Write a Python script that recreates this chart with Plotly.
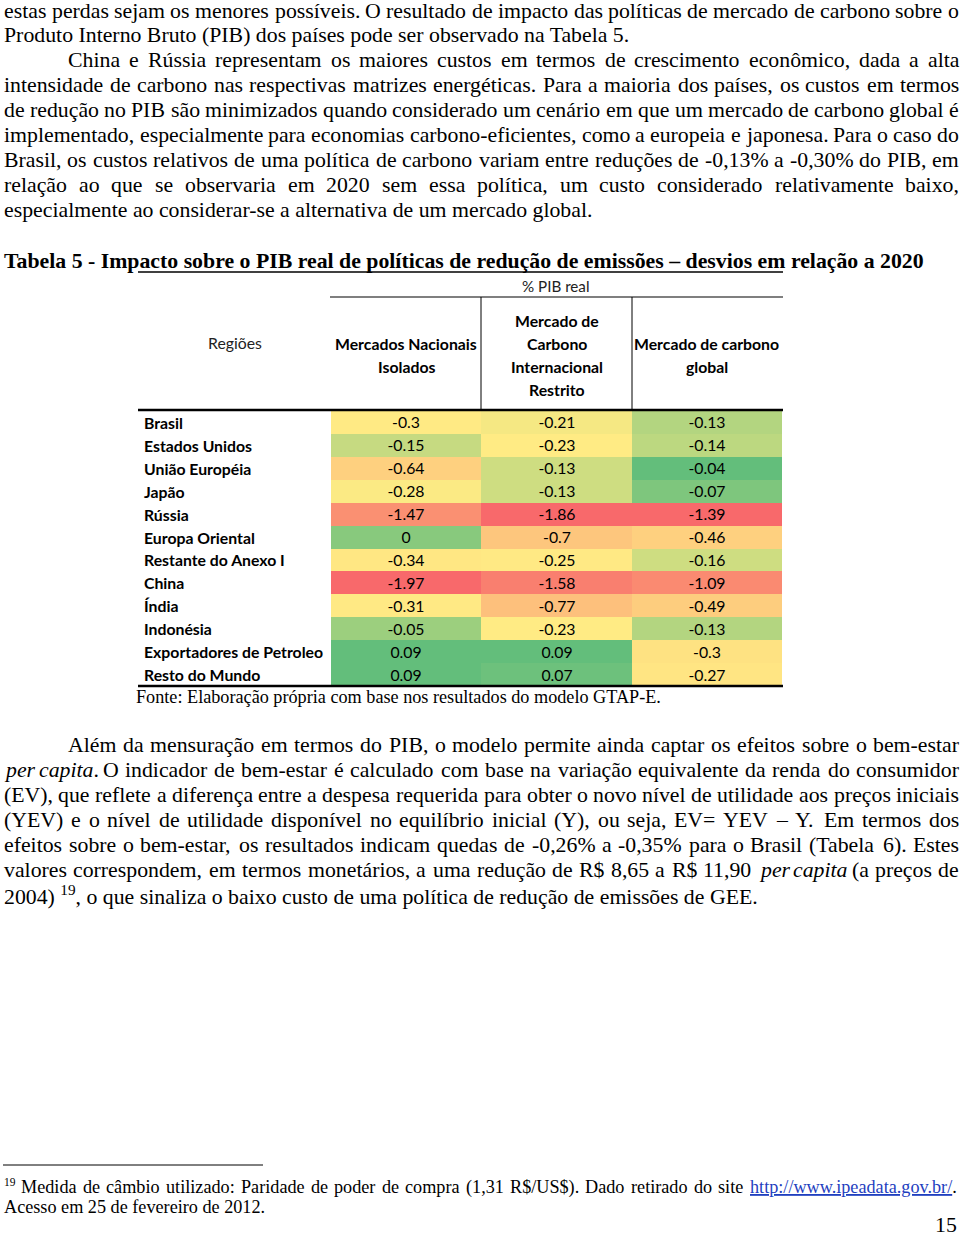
import re
import unicodedata
import plotly.graph_objects as go

W, H = 960, 1239

# ---------------- data ----------------
regions = ["Brasil", "Estados Unidos", "União Européia", "Japão", "Rússia",
           "Europa Oriental", "Restante do Anexo I", "China", "Índia",
           "Indonésia", "Exportadores de Petroleo", "Resto do Mundo"]
columns = ["Mercados Nacionais Isolados",
           "Mercado de Carbono Internacional Restrito",
           "Mercado de carbono global"]
column_lines = [["Mercados Nacionais", "Isolados"],
                ["Mercado de", "Carbono", "Internacional", "Restrito"],
                ["Mercado de carbono", "global"]]
mercados_nacionais = [-0.3, -0.15, -0.64, -0.28, -1.47, 0, -0.34, -1.97, -0.31, -0.05, 0.09, 0.09]
mercado_internacional = [-0.21, -0.23, -0.13, -0.13, -1.86, -0.7, -0.25, -1.58, -0.77, -0.23, 0.09, 0.07]
mercado_global = [-0.13, -0.14, -0.04, -0.07, -1.39, -0.46, -0.16, -1.09, -0.49, -0.13, -0.3, -0.27]
series = [mercados_nacionais, mercado_internacional, mercado_global]

para1 = [
    "estas perdas sejam os menores possíveis. O resultado de impacto das políticas de mercado de carbono sobre o",
    "Produto Interno Bruto (PIB) dos países pode ser observado na Tabela 5.",
]
para2 = [
    "China e Rússia representam os maiores custos em termos de crescimento econômico, dada a alta",
    "intensidade de carbono nas respectivas matrizes energéticas. Para a maioria dos países, os custos em termos",
    "de redução no PIB são minimizados quando considerado um cenário em que um mercado de carbono global é",
    "implementado, especialmente para economias carbono-eficientes, como a europeia e japonesa. Para o caso do",
    "Brasil, os custos relativos de uma política de carbono variam entre reduções de -0,13% a -0,30% do PIB, em",
    "relação ao que se observaria em 2020 sem essa política, um custo considerado relativamente baixo,",
    "especialmente ao considerar-se a alternativa de um mercado global.",
]
title = "Tabela 5 - Impacto sobre o PIB real de políticas de redução de emissões – desvios em relação a 2020"
source = "Fonte: Elaboração própria com base nos resultados do modelo GTAP-E."
para3 = [
    "Além da mensuração em termos do PIB, o modelo permite ainda captar os efeitos sobre o bem-estar",
    "<i>per</i> <i>capita</i>. O indicador de bem-estar é calculado com base na variação equivalente da renda do consumidor",
    "(EV), que reflete a diferença entre a despesa requerida para obter o novo nível de utilidade aos preços iniciais",
    "(YEV) e o nível de utilidade disponível no equilíbrio inicial (Y), ou seja, EV= YEV – Y. Em termos dos",
    "efeitos sobre o bem-estar, os resultados indicam quedas de -0,26% a -0,35% para o Brasil (Tabela 6). Estes",
    "valores correspondem, em termos monetários, a uma redução de R$ 8,65 a R$ 11,90 <i>per</i> <i>capita</i> (a preços de",
    "2004) <sup>19</sup>, o que sinaliza o baixo custo de uma política de redução de emissões de GEE.",
]
foot1 = ("Medida de câmbio utilizado: Paridade de poder de compra (1,31 R$/US$). Dado retirado do site "
         "http://www.ipeadata.gov.br/.")
foot2 = "Acesso em 25 de fevereiro de 2012."

# ---------------- helpers ----------------
TIMES = {' ': 250, '!': 333, '"': 408, '$': 500, '%': 833, '(': 333, ')': 333, ',': 250,
         '-': 333, '.': 250, '/': 278, ':': 278, ';': 278, '=': 564, '?': 444, '–': 500}
for d in "0123456789":
    TIMES[d] = 500
TIMES.update(dict(zip("ABCDEFGHIJKLMNOPQRSTUVWXYZ",
                      [722, 667, 667, 722, 611, 556, 722, 722, 333, 389, 722, 611, 889,
                       722, 722, 556, 722, 667, 556, 611, 722, 722, 944, 722, 722, 611])))
TIMES.update(dict(zip("abcdefghijklmnopqrstuvwxyz",
                      [444, 500, 444, 500, 444, 333, 500, 500, 278, 278, 500, 278, 778,
                       500, 500, 500, 500, 333, 389, 278, 500, 500, 722, 500, 500, 444])))


def text_width(s, size):
    s = re.sub(r"<[^>]+>", "", s)
    tot = 0
    for ch in s:
        base = unicodedata.normalize("NFD", ch)[0]
        tot += TIMES.get(base, 500)
    return tot / 1000.0 * size


def px(x):
    return x / W


def py(y):
    return 1 - y / H


SERIF = "Liberation Serif"
SANS = "Lato"
BODY = 21.8
SMALL = 18.2
TSIZE = 15.8

annotations = []
shapes = []


def add_text(txt, x, y, size=BODY, family=SERIF, anchor="left", color="black"):
    annotations.append(dict(text=txt, x=px(x), y=py(y), xref="paper", yref="paper",
                            xanchor=anchor, yanchor="middle", showarrow=False,
                            borderpad=0, font=dict(family=family, size=size, color=color)))


def justify(txt, y, x0=3, x1=958, size=BODY):
    words = txt.split(" ")
    widths = [text_width(w, size) for w in words]
    gap = (x1 - x0 - sum(widths)) / (len(words) - 1)
    x = x0
    for w, wd in zip(words, widths):
        shown = w
        if w.startswith("http"):
            shown = "<span style='color:#1f3fbf'><u>" + w[:-1] + "</u></span>."
        add_text(shown, x, y, size)
        x += wd + gap


def hline(x0, x1, y, width=1.0):
    shapes.append(dict(type="line", xref="paper", yref="paper", x0=px(x0), x1=px(x1),
                       y0=py(y), y1=py(y), line=dict(color="black", width=width)))


def vline(x, y0, y1, width=1.0):
    shapes.append(dict(type="line", xref="paper", yref="paper", x0=px(x), x1=px(x),
                       y0=py(y0), y1=py(y1), line=dict(color="black", width=width)))


# ---------------- body text ----------------
LINE = 25
justify(para1[0], 11)
add_text(para1[1], 3, 35)
for i, ln in enumerate(para2):
    y = 60 + i * LINE
    if i == len(para2) - 1:
        add_text(ln, 3, y)
    else:
        justify(ln, y, x0=67 if i == 0 else 3)

add_text("<b>" + title + "</b>", 3, 261, size=21.8)

for i, ln in enumerate(para3):
    y = 745 + i * LINE
    if i == len(para3) - 1:
        add_text(ln, 3, y)
    else:
        justify(ln, y, x0=67 if i == 0 else 3)

add_text(source, 135, 697, size=SMALL)

# footnote
hline(3, 263, 1165, 1)
add_text("19", 3, 1182, size=11.5)
justify(foot1, 1187, x0=20, x1=958, size=SMALL)
add_text(foot2, 3, 1207, size=SMALL)
add_text("15", 958, 1225, size=BODY, anchor="right")

# ---------------- table ----------------
x_left, x_right = 331, 782
y_top, y_bot = 411, 686

hline(138, 783, 272, 1.6)
hline(330, 783, 297, 1.2)
vline(481, 297, 410, 1.0)
vline(632, 297, 410, 1.0)
hline(138, 783, 410, 2.6)
hline(138, 783, 686, 2.6)

add_text("% PIB real", 556, 286, size=15.2, family=SANS, anchor="center", color="#222")
add_text("Regiões", 235, 342, size=TSIZE, family=SANS, anchor="center", color="#222")
for c, lines in zip(columns, column_lines):
    n = len(lines)
    for j, ln in enumerate(lines):
        y = 355 + (j - (n - 1) / 2) * 23
        annotations.append(dict(text="<b>" + ln + "</b>", x=c, xref="x2", y=py(y), yref="paper",
                                xanchor="center", yanchor="middle", showarrow=False,
                                font=dict(family=SANS, size=TSIZE, color="black")))

for r in regions:
    annotations.append(dict(text="<b>" + r + "</b>", x=px(142), xref="paper", y=r, yref="y2",
                            xanchor="left", yanchor="middle", showarrow=False,
                            font=dict(family=SANS, size=TSIZE, color="black")))

RED, YEL, GRN = "#F8696B", "#FFEB84", "#63BE7B"


def fmt(v):
    return f"{v:g}"


# Excel-style 3-colour scale, evaluated per column (min / median / max)
def col_scale(vals):
    lo, hi = min(vals), max(vals)
    s = sorted(vals)
    n = len(s)
    med = (s[n // 2 - 1] + s[n // 2]) / 2 if n % 2 == 0 else s[n // 2]
    out = []
    for v in vals:
        if v <= med:
            out.append(0.5 * (v - lo) / (med - lo))
        else:
            out.append(0.5 + 0.5 * (v - med) / (hi - med))
    return out


scaled = [col_scale(v) for v in series]
z = [[scaled[c][r] for c in range(len(columns))] for r in range(len(regions))]
txt = [[fmt(series[c][r]) for c in range(len(columns))] for r in range(len(regions))]

fig = go.Figure(go.Heatmap(
    x=columns, y=regions, z=z, text=txt, texttemplate="%{text}",
    textfont=dict(family=SANS, size=TSIZE, color="black"),
    colorscale=[[0, RED], [0.5, YEL], [1, GRN]], zmin=0, zmax=1,
    showscale=False, xaxis="x2", yaxis="y2", hoverinfo="skip", xgap=0, ygap=0,
))

fig.update_layout(
    width=W, height=H, margin=dict(l=0, r=0, t=0, b=0),
    paper_bgcolor="white", plot_bgcolor="white", showlegend=False,
    xaxis2=dict(domain=[px(x_left), px(x_right)], anchor="y2", type="category",
                categoryorder="array", categoryarray=columns, range=[-0.5, 2.5],
                visible=False, fixedrange=True),
    yaxis2=dict(domain=[py(y_bot), py(y_top)], anchor="x2", type="category",
                categoryorder="array", categoryarray=regions, range=[len(regions) - 0.5, -0.5],
                visible=False, fixedrange=True),
    xaxis=dict(visible=False), yaxis=dict(visible=False),
    annotations=annotations, shapes=shapes,
)
fig.write_html("out.html", config={"displayModeBar": False},
               post_script="document.body.style.margin='0';")
